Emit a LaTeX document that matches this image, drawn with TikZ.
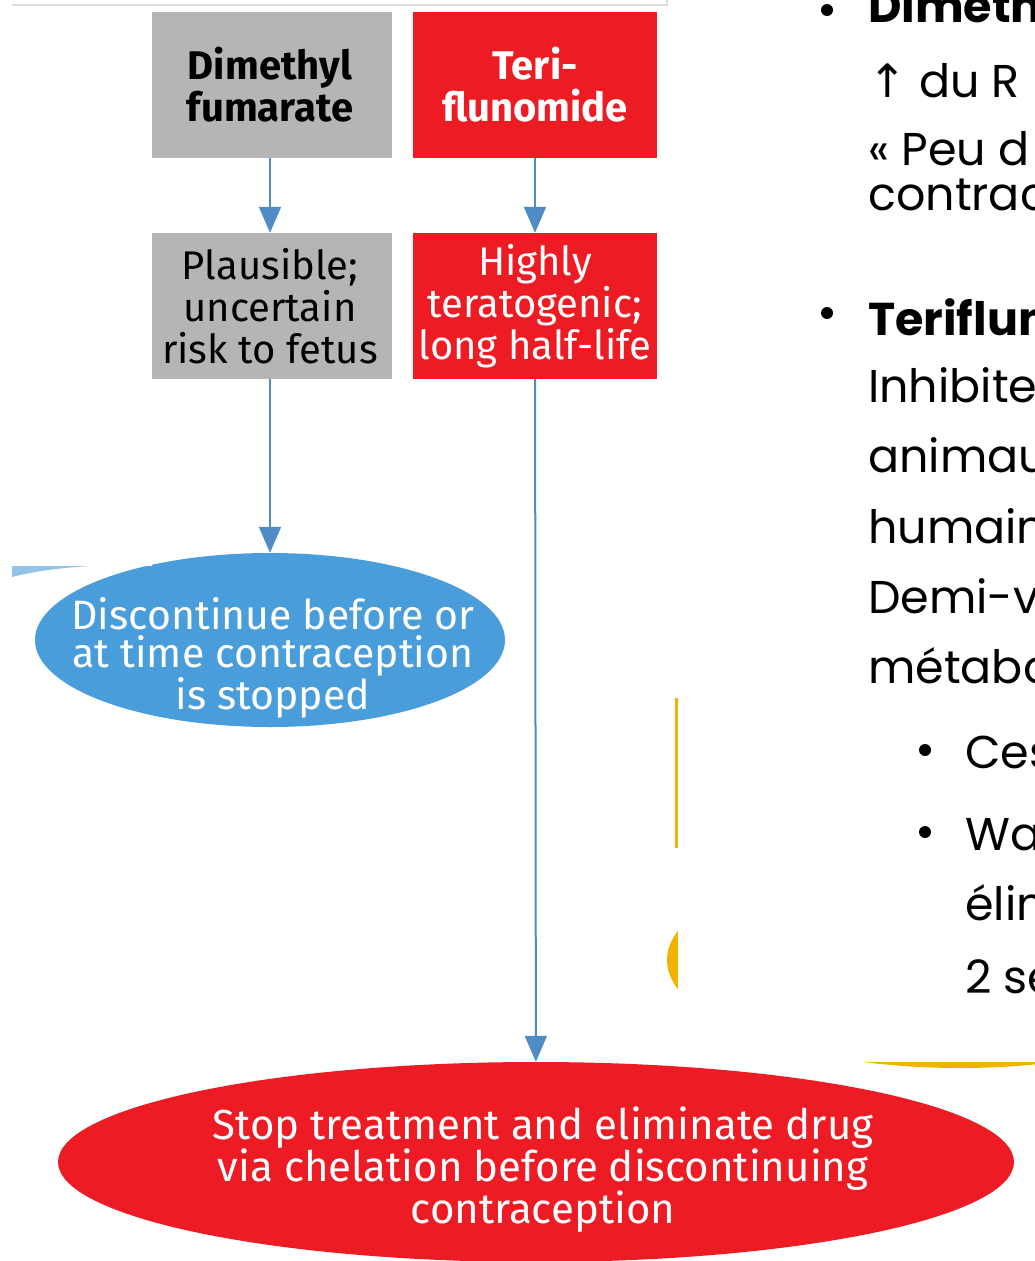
\documentclass[tikz,border=0pt]{standalone}
\usepackage{fontspec}
\setmainfont{Fira Sans}
\newfontfamily\slidefont{Poppins}
\newfontfamily\arrowfont{DejaVu Sans}
\usetikzlibrary{shapes.geometric,arrows.meta}
\definecolor{boxgrey}{HTML}{B5B5B5}
\definecolor{boxred}{HTML}{ED1C24}
\definecolor{ovalblue}{HTML}{4A9DDB}
\definecolor{arrowblue}{HTML}{4F8CC6}
\definecolor{signyellow}{HTML}{F0B400}
\definecolor{rulegrey}{HTML}{D9DDDD}

\begin{document}
\begin{tikzpicture}[x=1pt, y=-1pt,
    drugbox/.style={rectangle, minimum width=244pt, minimum height=146pt, inner sep=0pt, align=center, font=\fontsize{40}{42}\selectfont},
    greybox/.style={drugbox, fill=boxgrey, text=black},
    redbox/.style={drugbox, fill=boxred, text=white},
    oval/.style={ellipse, inner sep=0pt},
    ovaltext/.style={align=center, text=white, inner sep=0pt},
    flow/.style={arrowblue, line width=2pt, -{Triangle[length=26pt,width=22pt]}},
    slide/.style={anchor=base west, inner sep=0pt, font=\slidefont\fontsize{46}{50}\selectfont},
    dot/.style={circle, fill=black, inner sep=0pt, minimum size=12pt}]
    \useasboundingbox (0,0) rectangle (1035,1261);
    \clip (0,0) rectangle (1035,1261);
    % Frame line at the top
    \draw[rulegrey, line width=2pt] (12,5) -- (667,5) -- (667,0);
    % Drug boxes
    \node[greybox] (dmf) at (270,85) {\textbf{Dimethyl}\\\textbf{fumarate}};
    \node[redbox] (teri) at (535,85) {\textbf{Teri-}\\\textbf{flunomide}};
    \node[greybox] (dmfrisk) at (270,306) {Plausible;\\uncertain\\risk to fetus};
    \node[redbox] (teririsk) at (535,306) {Highly\\teratogenic;\\long half-life};
    % Ovals
    \node[oval, fill=ovalblue, minimum width=470pt, minimum height=174pt] (stopdmf) at (270,640) {};
    \node[ovaltext, font=\fontsize{41}{38}\selectfont] (stopdmftext) at (273,658) {Discontinue before or\\at time contraception\\is stopped};
    % Shapes behind the slide
    \fill[signyellow] (960,960) ellipse [x radius=293pt, y radius=108pt];
    \draw[signyellow, line width=3pt] (676,698) -- (676,848);
    \node[oval, fill=boxred, minimum width=956pt, minimum height=200pt] (stopteri) at (536,1162) {};
    \node[ovaltext, font=\fontsize{42}{42}\selectfont] (stopteritext) at (543,1170) {Stop treatment and eliminate drug\\via chelation before discontinuing\\contraception};
    % Arrows
    \draw[flow] (dmf) -- (dmfrisk);
    \draw[flow] (teri) -- (teririsk);
    \draw[flow] (dmfrisk) -- (stopdmf);
    \draw[flow] (teririsk) -- (stopteri);
    % Overlays
    \fill[white] (0,7) rectangle (152,566);
    \fill[ovalblue!60] (12,566) -- (90,566) .. controls (60,568) and (35,571) .. (12,577) -- cycle;
    \fill[white] (678,0) rectangle (1035,1062);
    % Slide text
    \node[dot] (b1) at (827,10) {};
    \node[slide] (l1) at (868,22) {\bfseries Dimethyl};
    \node[slide] (l2) at (868,97) {{\arrowfont ↑} du R};
    \node[slide] (l3) at (868,165) {« Peu d};
    \node[slide] (l4) at (868,210) {contrac};
    \node[dot] (b2) at (827,313) {};
    \node[slide] (l5) at (868,335) {\bfseries Teriflunomide};
    \node[slide] (l6) at (868,402) {Inhibite};
    \node[slide] (l7) at (868,472) {animaux};
    \node[slide] (l8) at (868,543) {humaine};
    \node[slide] (l9) at (868,613) {Demi-vie};
    \node[slide] (l10) at (868,683) {métabo};
    \node[dot] (b3) at (925,750) {};
    \node[slide] (l11) at (965,768) {Ces};
    \node[dot] (b4) at (925,832) {};
    \node[slide] (l12) at (965,850) {Wa};
    \node[slide] (l13) at (965,920) {élim};
    \node[slide] (l14) at (965,993) {2 se};
\end{tikzpicture}
\end{document}
